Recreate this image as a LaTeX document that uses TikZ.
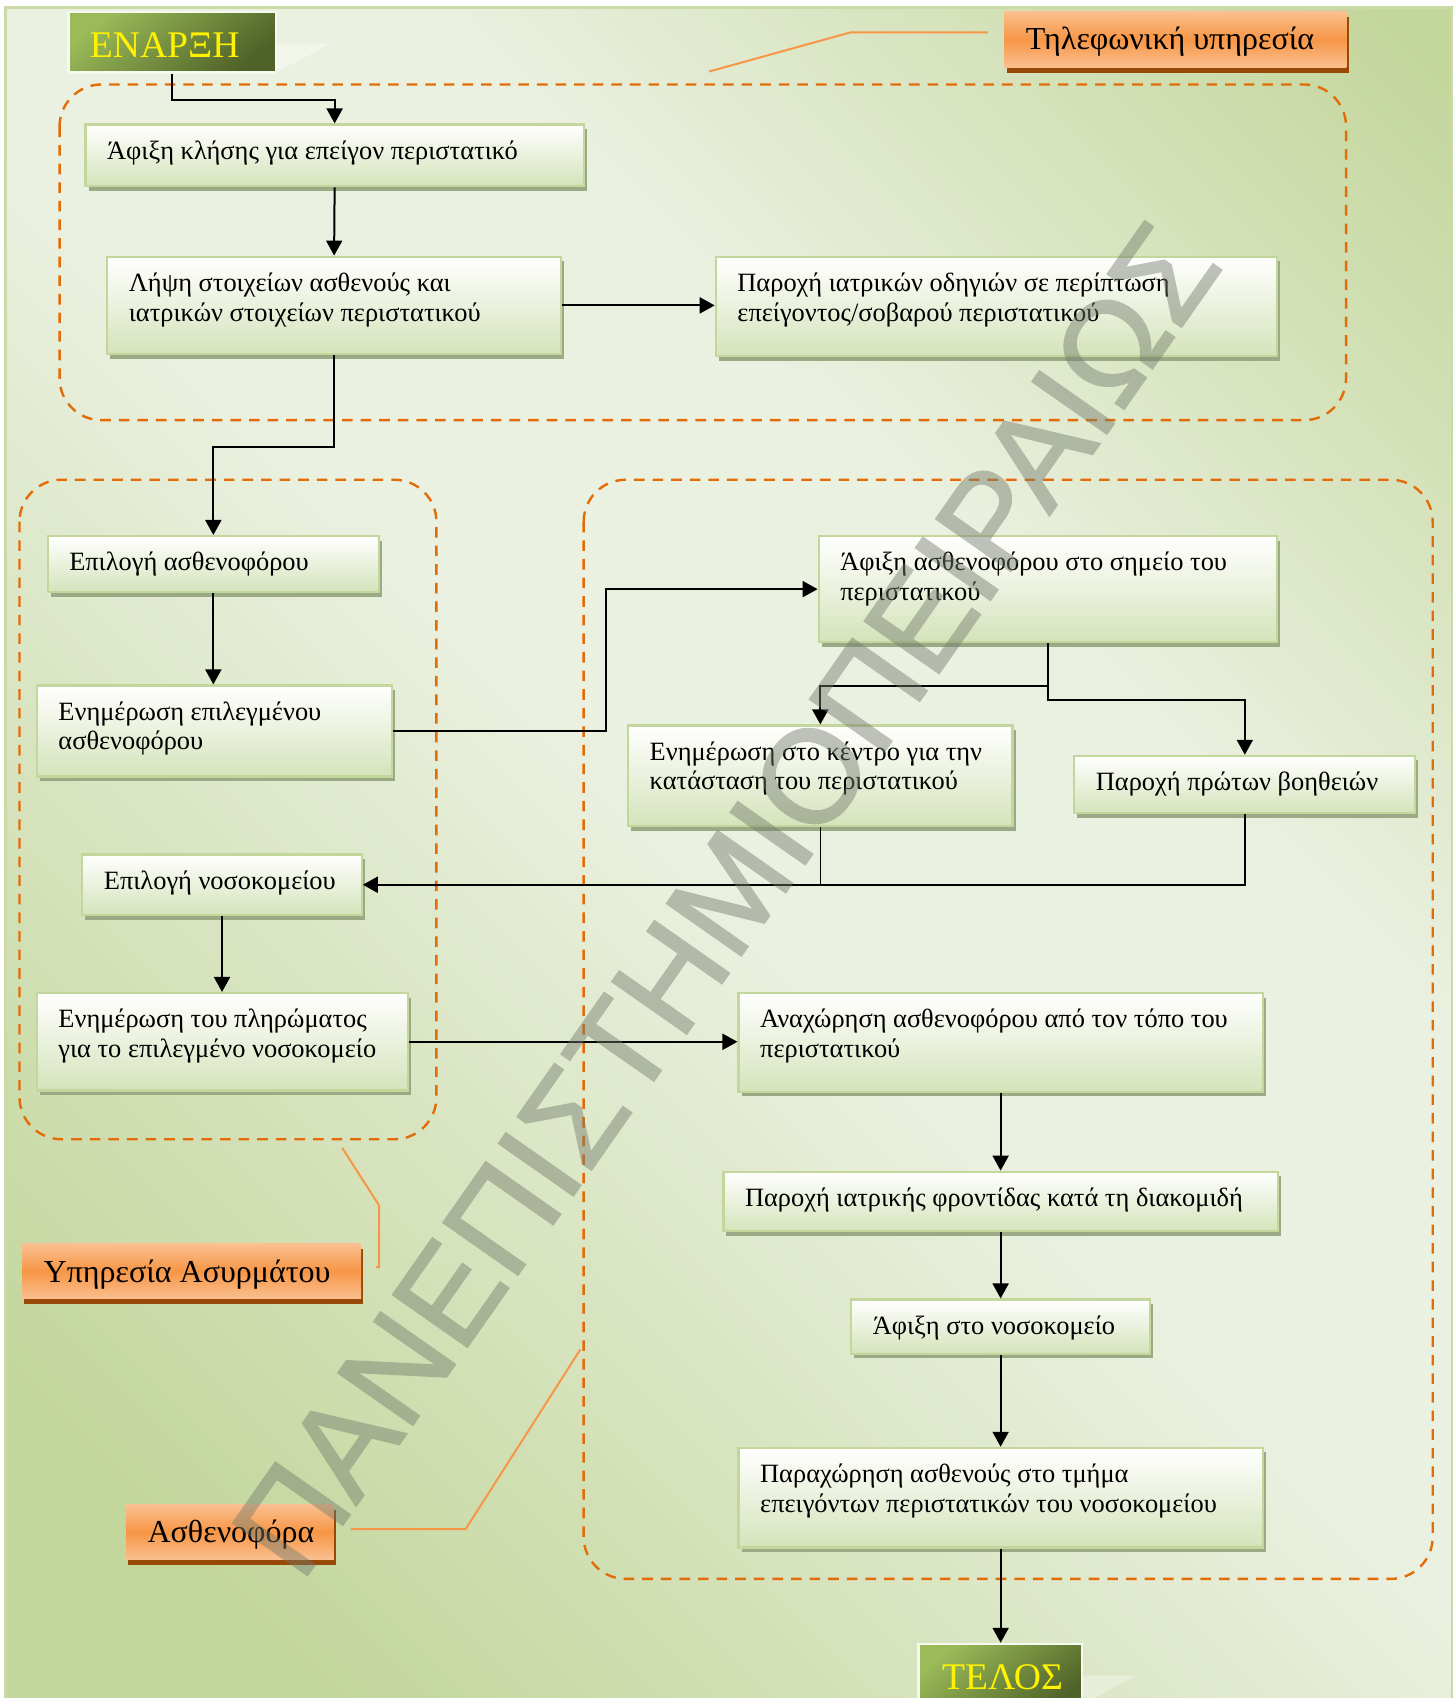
\documentclass[tikz,border=0pt]{standalone}
\usepackage{fontspec}
\setmainfont{Liberation Serif}
\newfontfamily\wmfont[FakeBold=1.6]{Liberation Sans}
\usetikzlibrary{shadows,calc,arrows.meta}
\definecolor{bgdark}{HTML}{C3D69B}
\definecolor{bglight}{HTML}{EBF1E1}
\definecolor{bgborder}{HTML}{CADBA9}
\definecolor{boxborder}{HTML}{C3D69B}
\definecolor{boxbottom}{HTML}{D5E3BA}
\definecolor{boxshadow}{HTML}{9BAA84}
\definecolor{grpdash}{HTML}{E36C09}
\definecolor{calloutcol}{HTML}{F79646}
\definecolor{orlight}{HTML}{FAC090}
\definecolor{ormid}{HTML}{F79646}
\definecolor{orshadow}{HTML}{984807}
\definecolor{termlight}{HTML}{9BBB59}
\definecolor{termdark}{HTML}{4F6228}
\definecolor{wmgray}{HTML}{737A6C}
\pgfdeclarehorizontalshading{bgshade}{100bp}{color(0bp)=(bgdark); color(22bp)=(bgdark); color(50bp)=(bglight); color(62bp)=(bglight); color(84bp)=(bgdark); color(100bp)=(bgdark)}
\newcommand\placebox[9]{%
  \pgfmathsetlengthmacro\bw{(#5-#3)*0.54135pt}%
  \pgfmathsetlengthmacro\bh{(#6-#4)*0.54135pt}%
  \node[#1, anchor=north west, inner sep=0pt] (#2) at (#3,#4)
    {\parbox[c][\bh][t]{\bw}{\raggedright\leftskip=#7\relax\rule{0pt}{#8}#9}};%
}
\begin{document}
\begin{tikzpicture}[x=0.54135pt, y=-0.54135pt,
  flowstyle/.style={draw=boxborder, line width=1.1pt, top color=white, bottom color=boxbottom,
    drop shadow={shadow xshift=1.5pt, shadow yshift=-2.3pt, fill=boxshadow, opacity=1},
    font=\fontsize{13.2}{14.9}\selectfont, text=black},
  termstyle/.style={draw=white!85!bgdark, line width=1.2pt, top color=termlight, bottom color=termdark, shading angle=40,
    font=\fontsize{18.8}{22}\selectfont, text=yellow},
  labelstyle/.style={top color=orlight, bottom color=orlight, middle color=ormid,
    drop shadow={shadow xshift=1.2pt, shadow yshift=-2.8pt, fill=orshadow, opacity=1},
    font=\fontsize{16}{19}\selectfont, text=black},
  conn/.style={draw=black, line width=1pt, -{Triangle[length=7.5pt,width=8pt]}},
  connplain/.style={draw=black, line width=0.7pt},
  grp/.style={draw=grpdash, line width=1.2pt, dash pattern=on 5.3pt off 4pt, rounded corners=21pt},
  callout/.style={draw=calloutcol, line width=1pt},
  wm/.style={text=wmgray, font=\wmfont\fontsize{66}{66}\selectfont, inner sep=0pt}
]
\useasboundingbox (0,0) rectangle (1343,1568);
\clip (0,0) rectangle (1343,1568);
% background
\fill[white] (0,0) rectangle (1343,1568);
\shade[shading=bgshade, shading angle=45] (5,7) rectangle (1341,1580);
\draw[bgborder, line width=1.2pt] (5,7) rectangle (1341,1580);
% perspective shadows of terminals
\fill[white, opacity=0.3] (255,40) -- (306,40) -- (255,67) -- cycle;
\fill[white, opacity=0.3] (999,1547) -- (1049,1547) -- (999,1575) -- cycle;
% groups
\draw[grp] (55,78) rectangle (1243,388);
\draw[grp] (18,443) rectangle (403,1052);
\draw[grp] (539,443) rectangle (1323,1458);
% terminals
\placebox{termstyle}{start}{62}{10}{254}{66}{10.8pt}{22.7pt}{ΕΝΑΡΞΗ}
\placebox{termstyle}{end}{847}{1517}{998}{1580}{11.9pt}{22.7pt}{ΤΕΛΟΣ}
% labels
\placebox{labelstyle}{tel}{927}{10}{1243}{62}{10.8pt}{19.2pt}{Τηλεφωνική υπηρεσία}
\placebox{labelstyle}{asy}{20}{1148}{333}{1199}{10.8pt}{19.2pt}{Υπηρεσία Ασυρμάτου}
\placebox{labelstyle}{amb}{116}{1389}{308}{1440}{10.8pt}{19.2pt}{Ασθενοφόρα}
% boxes
\placebox{flowstyle}{b1}{78}{114}{538}{171}{10.8pt}{17.3pt}{Άφιξη κλήσης για επείγον περιστατικό}
\placebox{flowstyle}{b2}{98}{236}{517}{326}{10.8pt}{17.3pt}{Λήψη στοιχείων ασθενούς και\\ιατρικών στοιχείων περιστατικού}
\placebox{flowstyle}{b3}{660}{236}{1178}{328}{10.8pt}{17.3pt}{Παροχή ιατρικών οδηγιών σε περίπτωση\\επείγοντος/σοβαρού περιστατικού}
\placebox{flowstyle}{b4}{43}{494}{349}{546}{10.8pt}{17.3pt}{Επιλογή ασθενοφόρου}
\placebox{flowstyle}{b5}{33}{632}{361}{716}{10.8pt}{17.3pt}{Ενημέρωση επιλεγμένου\\ασθενοφόρου}
\placebox{flowstyle}{b6}{75}{788}{333}{844}{10.8pt}{17.3pt}{Επιλογή νοσοκομείου}
\placebox{flowstyle}{b7}{33}{916}{376}{1006}{10.8pt}{17.3pt}{Ενημέρωση του πληρώματος\\για το επιλεγμένο νοσοκομείο}
\placebox{flowstyle}{b8}{755}{494}{1178}{592}{10.8pt}{17.3pt}{Άφιξη ασθενοφόρου στο σημείο του\\περιστατικού}
\placebox{flowstyle}{b9}{579}{669}{934}{762}{10.8pt}{17.3pt}{Ενημέρωση στο κέντρο για την\\κατάσταση του περιστατικού}
\placebox{flowstyle}{b10}{991}{697}{1306}{750}{10.8pt}{17.3pt}{Παροχή πρώτων βοηθειών}
\placebox{flowstyle}{b11}{681}{916}{1165}{1007}{10.8pt}{17.3pt}{Αναχώρηση ασθενοφόρου από τον τόπο του\\περιστατικού}
\placebox{flowstyle}{b12}{667}{1081}{1179}{1136}{10.8pt}{17.3pt}{Παροχή ιατρικής φροντίδας κατά τη διακομιδή}
\placebox{flowstyle}{b13}{785}{1199}{1061}{1249}{10.8pt}{17.3pt}{Άφιξη στο νοσοκομείο}
\placebox{flowstyle}{b14}{681}{1336}{1165}{1428}{10.8pt}{17.3pt}{Παραχώρηση ασθενούς στο τμήμα\\επειγόντων περιστατικών του νοσοκομείου}
% connectors
\draw[conn] (start.south) -- ++(0,24) -| (b1.north);
\draw[conn] (b1.south) -- (b2.north);
\draw[conn] (b2.east) -- (b2.east -| b3.west);
\draw[conn] (b2.south) -- ++(0,85) -| (b4.north);
\draw[conn] (b4.south) -- (b4.south |- b5.north);
\draw[conn] (b5.east) -- ++(197,0) |- (b8.west);
\draw[conn] (b8.south) -- ++(0,39) -| (b9.north);
\draw[conn] (b8.south) -- ++(0,52) -| (b10.north);
\draw[conn] (b10.south) |- (b6.east);
\draw[connplain] (b9.south) -- (b9.south |- b6.east);
\draw[conn] (b6.south) -- (b6.south |- b7.north);
\draw[conn] (b7.east) -- (b7.east -| b11.west);
\draw[conn] (b11.south) -- (b11.south |- b12.north);
\draw[conn] (b12.south) -- (b12.south |- b13.north);
\draw[conn] (b13.south) -- (b13.south |- b14.north);
\draw[conn] (b14.south) -- (b14.south |- end.north);
% callouts
\coordinate (telA) at (912,30);
\coordinate (telB) at (655,66);
\draw[callout] (telA) -- (785,30) -- (telB);
\coordinate (asyA) at (347,1170);
\coordinate (asyB) at (316,1060);
\draw[callout] (asyA) -- (350,1170) -- (350,1113) -- (asyB);
\coordinate (ambA) at (324,1412);
\coordinate (ambB) at (536,1246);
\draw[callout] (ambA) -- (430,1412) -- (ambB);
% watermark
\begin{scope}[transparency group, opacity=0.45]
\node[wm, rotate=55] (wmark) at (670,830) {ΠΑΝΕΠΙΣΤΗΜΙΟΠΕΙΡΑΙΩΣ};
\end{scope}
\end{tikzpicture}
\end{document}
